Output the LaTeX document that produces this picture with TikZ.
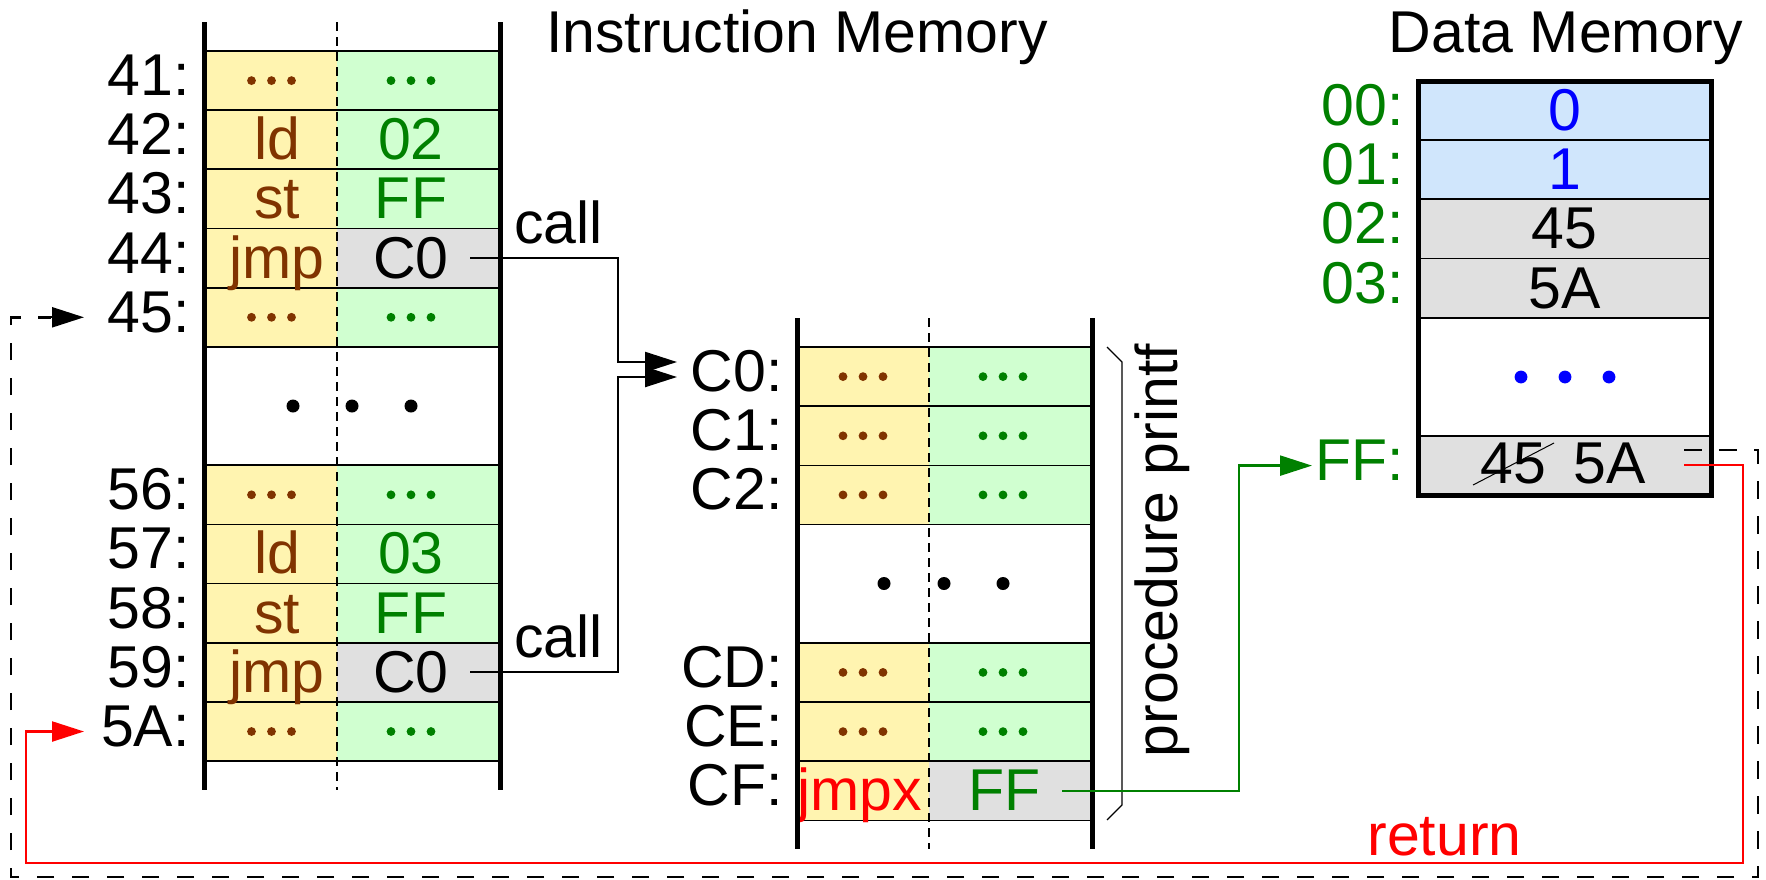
\documentclass[tikz,border=0pt]{standalone}
\usepackage{fontspec}
\setmainfont{Liberation Sans}
\usetikzlibrary{arrows.meta}
\definecolor{cyel}{RGB}{255,244,176}
\definecolor{cgrn}{RGB}{208,255,208}
\definecolor{cgry}{RGB}{224,224,224}
\definecolor{cblu}{RGB}{208,230,252}
\definecolor{cbrn}{RGB}{128,51,0}
\definecolor{tgrn}{RGB}{0,128,0}
\definecolor{tblu}{RGB}{0,0,255}
\definecolor{tred}{RGB}{255,0,0}
\begin{document}
\begin{tikzpicture}[x=0.5pt,y=-0.5pt,
  txt/.style={font=\fontsize{29.5pt}{35pt}\selectfont, inner sep=0pt, anchor=base},
  lbl/.style={txt, anchor=base east},
  memline/.style={line width=2.5pt},
  sep/.style={line width=0.85pt},
  divl/.style={line width=0.7pt, dash pattern=on 4.5pt off 3pt},
  conn/.style={line width=1.15pt},
  tipa/.style={-{Triangle[length=16pt,width=10pt]}},
  dashconn/.style={line width=1.45pt, dash pattern=on 8.75pt off 8.75pt},
]
\useasboundingbox (0,0) rectangle (1766,879);

% ---------- Instruction memory (left) ----------
\foreach \k/\lab/\rf in {0/41/cgrn,1/42/cgrn,2/43/cgrn,3/44/cgry,4/45/cgrn,7/56/cgrn,8/57/cgrn,9/58/cgrn,10/59/cgry,11/5A/cgrn}{
  \pgfmathsetmacro\t{51+59.17*\k}
  \fill[cyel] (204,\t) rectangle (337,\t+59.17);
  \fill[\rf] (337,\t) rectangle (500,\t+59.17);
  \draw[sep] (204,\t) -- (500,\t);
  \draw[sep] (204,\t+59.17) -- (500,\t+59.17);
  \node[lbl] (a\lab) at (190,\t+44.6) {\lab:};
}
\foreach \yy in {80.6,317.3,494.8,731.5}{
  \foreach \xx in {251.5,271.5,291.5}{\fill[cbrn] (\xx,\yy) circle (2.2pt);}
  \foreach \xx in {391,411,431}{\fill[tgrn] (\xx,\yy) circle (2.2pt);}
}
\node[txt,text=cbrn] (op42) at (277,159.8) {ld};
\node[txt,text=tgrn] (ar42) at (411,159.8) {02};
\node[txt,text=cbrn] (op43) at (277,218.9) {st};
\node[txt,text=tgrn] (ar43) at (411,218.9) {FF};
\node[txt,text=cbrn] (op44) at (277,278.1) {jmp};
\node[txt] (ar44) at (411,278.1) {C0};
\node[txt,text=cbrn] (op57) at (277,573.9) {ld};
\node[txt,text=tgrn] (ar57) at (411,573.9) {03};
\node[txt,text=cbrn] (op58) at (277,633.1) {st};
\node[txt,text=tgrn] (ar58) at (411,633.1) {FF};
\node[txt,text=cbrn] (op59) at (277,692.3) {jmp};
\node[txt] (ar59) at (411,692.3) {C0};
\foreach \xx in {293,352,411}{\fill (\xx,406) circle (3.25pt);}
\draw[memline] (204,22) -- (204,790);
\draw[memline] (500,22) -- (500,790);
\draw[divl] (337,22) -- (337,790);

% ---------- Procedure (middle) ----------
\foreach \k/\lab/\rf in {0/C0/cgrn,1/C1/cgrn,2/C2/cgrn,5/CD/cgrn,6/CE/cgrn,7/CF/cgry}{
  \pgfmathsetmacro\t{347+59.17*\k}
  \fill[cyel] (797,\t) rectangle (929,\t+59.17);
  \fill[\rf] (929,\t) rectangle (1092,\t+59.17);
  \draw[sep] (797,\t) -- (1092,\t);
  \draw[sep] (797,\t+59.17) -- (1092,\t+59.17);
  \node[lbl] (b\lab) at (783,\t+44.6) {\lab:};
}
\foreach \yy in {376.6,435.8,494.9,672.4,731.6}{
  \foreach \xx in {843,863,883}{\fill[cbrn] (\xx,\yy) circle (2.2pt);}
  \foreach \xx in {983,1003,1023}{\fill[tgrn] (\xx,\yy) circle (2.2pt);}
}
\node[txt,text=tred] (opCF) at (860,810.8) {jmpx};
\node[txt,text=tgrn] (arCF) at (1004.5,810.8) {FF};
\foreach \xx in {884,944,1003}{\fill (\xx,583.5) circle (3.25pt);}
\draw[memline] (797,318) -- (797,849);
\draw[memline] (1092,318) -- (1092,849);
\draw[divl] (929,318) -- (929,849);
\draw[line width=0.6pt] (1107,347) -- (1122,362) -- (1122,805) -- (1107,820);
\node[txt,rotate=90] (proc) at (1177,550.5) {procedure printf};

% ---------- Data memory (right) ----------
\foreach \k/\lab/\rf in {0/00/cblu,1/01/cblu,2/02/cgry,3/03/cgry,6/FF/cgry}{
  \pgfmathsetmacro\t{81+59.17*\k}
  \fill[\rf] (1418,\t) rectangle (1711,\t+59.17);
  \draw[sep] (1418,\t) -- (1711,\t);
  \draw[sep] (1418,\t+59.17) -- (1711,\t+59.17);
  \node[lbl,text=tgrn] (d\lab) at (1404,\t+44.6) {\lab:};
}
\node[txt,text=tblu] (v00) at (1564.5,130.6) {0};
\node[txt,text=tblu] (v01) at (1564.5,189.8) {1};
\node[txt] (v02) at (1564.5,248.9) {45};
\node[txt] (v03) at (1564.5,308.1) {5A};
\node[txt] (old) at (1513,483) {45};
\node[txt] (new) at (1609.5,483) {5A};
\draw[line width=0.5pt] (1473,485) -- (1554,443);
\foreach \xx in {1521,1565,1609}{\fill[tblu] (\xx,377) circle (3.2pt);}
\draw[memline] (1418,81) rectangle (1711,495.2);

% ---------- Titles ----------
\node[txt] (ti) at (797,52) {Instruction Memory};
\node[txt] (td) at (1566,52) {Data Memory};

% ---------- Connectors ----------
\coordinate (s44) at (470,258.1);
\coordinate (s59) at (470,672.3);
\coordinate (e1) at (677,362);
\coordinate (e2) at (677,377);
\draw[conn,tipa] (s44) -- ++(148,0) |- (e1);
\draw[conn,tipa] (s59) -- ++(148,0) |- (e2);
\node[txt,anchor=base west] (call1) at (514,243) {call};
\node[txt,anchor=base west] (call2) at (514,657) {call};

\coordinate (sCF) at (1062,790.8);
\coordinate (eFF) at (1312,465.6);
\draw[conn,tgrn,tipa] (sCF) -- ++(177,0) |- (eFF);

\coordinate (sret) at (1684,465);
\coordinate (e5A) at (84,731.5);
\draw[conn,tred,tipa] (sret) -| (1743,863) -| (26,731.5) -- (e5A);
\node[txt,anchor=base west,text=tred] (ret) at (1367,855) {return};

\coordinate (sold) at (1684,450);
\coordinate (e45) at (84,317.3);
\draw[dashconn] (sold) -| (1758,877) -| (11,317.3) -- ++(40,0);
\draw[conn,tipa] (51,317.3) -- (e45);
\end{tikzpicture}
\end{document}
